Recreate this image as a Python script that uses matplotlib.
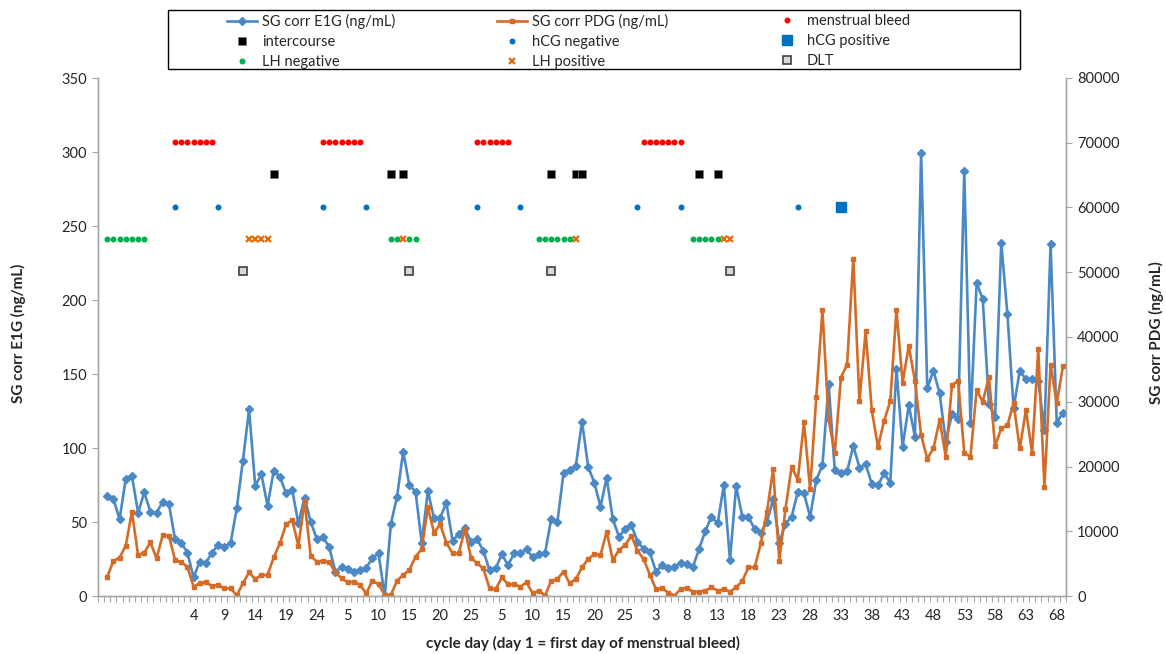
import numpy as np
import matplotlib
matplotlib.use("Agg")
import matplotlib.pyplot as plt
from matplotlib.lines import Line2D
from matplotlib.patches import Rectangle

plt.rcParams['font.family'] = ['Lato', 'DejaVu Sans']

# ---------------- data ----------------
# category sequence: one empty slot, 11 pre-cycle days (unlabelled), then 4 cycles
pre_cycle_slots = 12
cycle_lengths = [24, 25, 27, 69]

e1g = [67.8, 65.5, 52, 79, 81.3, 56.3, 70, 57, 56.3, 63.7, 62.2,
       38.3, 36, 29.3, 12.6, 23.2, 22.5, 29.3, 34.5, 33.3, 35.6, 59.2, 91.4, 126.1,
       74.5, 82.2, 61, 84.7, 80.6, 69.4, 71.6, 49.1, 66.4, 50.2, 38.3,
       40.1, 32.9, 16.5, 19.4, 18.2, 16.4, 17.6, 19.1, 25.5, 28.8, 0, 48.6, 67.1, 97.5,
       75, 70.5, 36, 70.9, 52.5, 52.9, 63, 37.4, 41.7, 45.7, 36.7,
       38.3, 30.4, 17.6, 18.7, 28.2, 20.9, 28.8, 28.8, 31.5, 26.1, 28.2, 28.8, 52, 49.8,
       82.9, 85.1, 88, 117.8, 87.4, 76.6, 60.3, 79.9, 51.8, 40.1, 45.1, 48, 36.7,
       31.8, 29.5, 16.4, 20.9, 19.1, 19.8, 22.5, 21.6, 19.8, 31.8, 43.9, 53.6, 49.1,
       75, 24.3, 74.3, 53.6, 53.6, 45.1, 42.8, 50.2, 65.3, 36, 48.8, 53.6, 70.3, 69.4,
       53.4, 78.4, 88.5, 143, 85.1, 83.3, 84.2, 101.4, 86.8, 89.1, 75.7, 74.7, 82.9,
       76.6, 153.2, 100.9, 129, 107.6, 299, 140.3, 152.3, 137, 104.3, 122.8, 119.4,
       287, 116.7, 211.7, 200.5, 129.7, 121.2, 238.7, 190.3, 126.8, 152.3, 146.4,
       146.4, 145.5, 112.2, 237.8, 117.1, 123.9]

pdg = [2980, 5400, 5910, 7760, 13010, 6330, 6690, 8280, 5810, 9410, 9310,
       5550, 5200, 4520, 1440, 1960, 2110, 1540, 1700, 1180, 1180, 100, 1960, 3650,
       2620, 3240, 3240, 5970, 8130, 11060, 11730, 7760, 14660, 6170, 5300,
       5400, 5200, 3650, 2730, 2110, 2210, 1700, 410, 2360, 1800, 150, 150, 2360, 3240,
       4010, 6060, 7250, 13690, 9770, 11060, 8230, 6580, 6580, 10290, 5910,
       5040, 4270, 1180, 1030, 2880, 1800, 1800, 1440, 2110, 410, 820, 50, 2360, 2620,
       3750, 1960, 2620, 4420, 5710, 6430, 6330, 9920, 5550, 7100, 7870, 9310, 6990,
       5710, 3300, 1050, 1180, 540, 50, 1080, 1180, 670, 670, 820, 1340, 820,
       1030, 670, 1340, 2310, 4420, 4420, 8130, 13010, 19550, 5450, 13450, 19950, 17950,
       26800, 16480, 30800, 44130, 27260, 22110, 33740, 35750, 52110, 30090, 40890,
       28700, 23040, 27050, 30090, 44130, 32970, 38580, 33220, 24840, 21170, 22790,
       27160, 21500, 32560, 33220, 22110, 21500, 31790, 29980, 33840, 23150, 25870,
       26390, 29730, 22790, 28700, 22110, 38070, 16870, 35750, 29730, 35490]

# event days, as category indices
menstrual_bleed = [12, 13, 14, 15, 16, 17, 18, 36, 37, 38, 39, 40, 41, 42,
                   61, 62, 63, 64, 65, 66, 88, 89, 90, 91, 92, 93, 94]
intercourse = [28, 47, 49, 73, 77, 78, 97, 100]
hcg_negative = [12, 19, 36, 43, 61, 68, 87, 94, 113]
hcg_positive = [120]
lh_negative = [1, 2, 3, 4, 5, 6, 7, 47, 48, 50, 51, 71, 72, 73, 74, 75, 76,
               96, 97, 98, 99, 100]
lh_positive = [24, 25, 26, 27, 49, 77, 101, 102]
dlt = [23, 50, 73, 102]

# ---------------- build categories ----------------
day_labels = [''] * pre_cycle_slots
for L in cycle_lengths:
    day_labels += [str(d) for d in range(1, L + 1)]
n_cat = len(day_labels)
x_data = np.arange(1, 1 + len(e1g))

# ---------------- styles ----------------
blue = '#4A88C6'
orange = '#D46B26'

fig = plt.figure(figsize=(11.66, 6.54), dpi=100)
ax = fig.add_axes([98 / 1166, 1 - 596 / 654, 968 / 1166, 518 / 654])
ax2 = ax.twinx()

ax.plot(x_data, e1g, color=blue, lw=1.9, marker='D', ms=4.2, mec=blue, mfc=blue, zorder=3)
ax2.plot(x_data, pdg, color=orange, lw=1.9, marker='s', ms=3.3, mec=orange, mfc=orange)

row_level = {'bleed': 306.5, 'inter': 285, 'hcg': 263, 'lh': 241, 'dlt': 219.5}

def ev(ix, level, **kw):
    return ax.plot(ix, [level] * len(ix), linestyle='none', zorder=4, **kw)[0]

h_bleed = ev(menstrual_bleed, row_level['bleed'], marker='o', ms=3.3, color='#FF0000', mec='#FF0000')
h_inter = ev(intercourse, row_level['inter'], marker='s', ms=6.3, color='black', mec='#7F7F7F', mew=0.6)
h_hneg = ev(hcg_negative, row_level['hcg'], marker='o', ms=3.3, color='#0070C0', mec='#0070C0')
h_hpos = ev(hcg_positive, row_level['hcg'], marker='s', ms=6.8, color='#0070C0', mec='#0070C0')
h_lneg = ev(lh_negative, row_level['lh'], marker='o', ms=3.3, color='#00B050', mec='#00B050')
h_lpos = ev(lh_positive, row_level['lh'], marker='x', ms=5, color='#E46C0A', mew=1.6)
h_dlt = ev(dlt, row_level['dlt'], marker='s', ms=6, color='#D9D9D9', mec='#404040', mew=1.2)

# ---------------- axes ----------------
ax.set_xlim(-0.5, n_cat - 0.5)
ax.set_ylim(0, 350)
ax2.set_ylim(0, 80000)
ax.set_yticks(np.arange(0, 351, 50))
ax2.set_yticks(np.arange(0, 80001, 10000))

major = np.arange(0, n_cat, 5)
ax.set_xticks(major)
ax.set_xticklabels([day_labels[i] for i in major])
ax.set_xticks(np.arange(-0.5, n_cat, 1.0), minor=True)
ax.tick_params(axis='x', which='major', length=0, pad=9, labelsize=10.5, labelcolor='#262626')
ax.tick_params(axis='x', which='minor', length=4, width=0.8, color='#A6A6A6', direction='out')
ax.tick_params(axis='y', length=4, width=0.8, color='#A6A6A6', labelsize=10.5,
               labelcolor='#262626', pad=4)
ax2.tick_params(axis='y', length=4, width=0.8, color='#A6A6A6', labelsize=10.5,
                labelcolor='#262626', pad=4)

for a in (ax, ax2):
    a.spines['top'].set_visible(False)
    for s in ('left', 'right', 'bottom'):
        a.spines[s].set_color('#A6A6A6')
        a.spines[s].set_linewidth(1.0)

fig.text(18 / 1166, 1 - 333 / 654, 'SG corr E1G (ng/mL)', rotation=90, ha='center', va='center',
         fontsize=11, fontweight='bold', color='#262626')
fig.text(1156 / 1166, 1 - 333 / 654, 'SG corr PDG (ng/mL)', rotation=90, ha='center', va='center',
         fontsize=11, fontweight='bold', color='#262626')
fig.text(583 / 1166, 1 - 643 / 654, 'cycle day (day 1 = first day of menstrual bleed)',
         ha='center', va='center', fontsize=11, fontweight='bold', color='#262626')

# ---------------- legend ----------------
h_e1g = Line2D([], [], color=blue, lw=1.9, marker='D', ms=4.2)
h_pdg = Line2D([], [], color=orange, lw=1.9, marker='s', ms=3.3)
cols = [
    ([h_e1g, h_inter, h_lneg], ['SG corr E1G (ng/mL)', 'intercourse', 'LH negative'], 226),
    ([h_pdg, h_hneg, h_lpos], ['SG corr PDG (ng/mL)', 'hCG negative', 'LH positive'], 496),
    ([h_bleed, h_hpos, h_dlt], ['menstrual bleed', 'hCG positive', 'DLT'], 771),
]
for hs, ls, xpx in cols:
    leg = fig.legend(hs, ls, loc='upper left', bbox_to_anchor=(xpx / 1166, 1 - 12.5 / 654),
                     frameon=False, fontsize=10.5, borderpad=0.1, borderaxespad=0,
                     handlelength=2.0, handletextpad=0.35, labelspacing=0.42, numpoints=1)
    for t in leg.get_texts():
        t.set_color('#262626')
fig.patches.append(Rectangle((168 / 1166, 1 - 69 / 654), 852 / 1166, 59 / 654,
                             transform=fig.transFigure, fill=False, edgecolor='black', lw=1.0))

fig.savefig('out.png', dpi=100)
